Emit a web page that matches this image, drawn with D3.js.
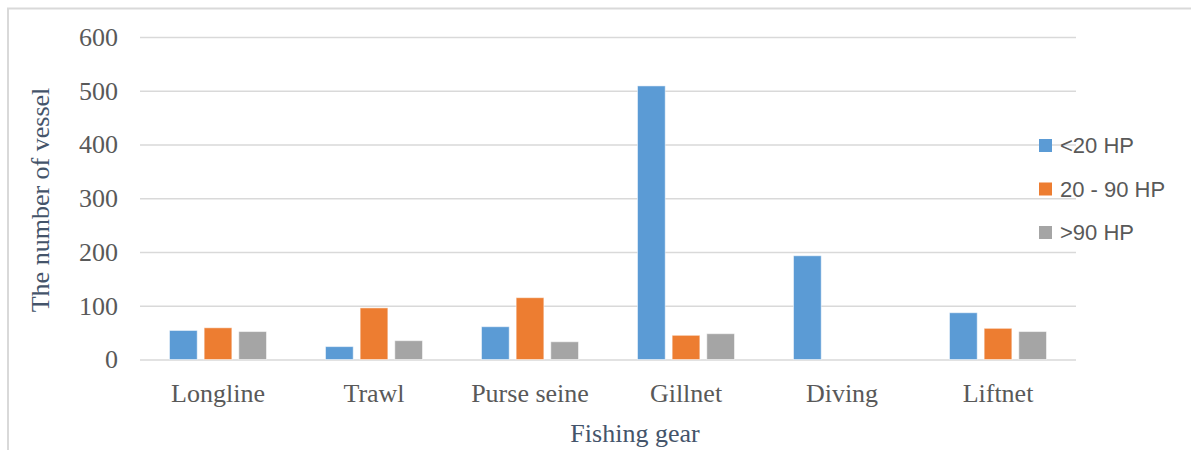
<!DOCTYPE html>
<html>
<head>
<meta charset="utf-8">
<script src="https://cdn.jsdelivr.net/npm/d3@7"></script>
<style>
  html, body { margin: 0; padding: 0; background: #fff; }
  svg { display: block; }
</style>
</head>
<body>
<svg id="chart" width="1191" height="450"></svg>
<script>
// Number of fishing vessels by gear type and engine power class
const categories = ["Longline", "Trawl", "Purse seine", "Gillnet", "Diving", "Liftnet"];
const seriesNames = ["<20 HP", "20 - 90 HP", ">90 HP"];
const under20 = [54, 24, 61, 509, 193, 87];
const from20to90 = [59, 96, 115, 45, 0, 58];
const over90 = [52, 35, 33, 48, 0, 52];
const yTicks = [0, 100, 200, 300, 400, 500, 600];
const colors = ["#5B9BD5", "#ED7D31", "#A5A5A5"];

const seriesValues = [under20, from20to90, over90];
const rows = categories.map((c, i) => ({
  category: c,
  values: seriesNames.map((s, j) => ({ series: s, idx: j, value: seriesValues[j][i] }))
}));

const svg = d3.select("#chart");
const serif = "'Liberation Serif', 'Times New Roman', serif";
const sans = "'Liberation Sans', Arial, sans-serif";

// Chart frame (partial border visible at top-left)
svg.append("path")
  .attr("d", "M8,450 L8,8.5 L1191,8.5")
  .attr("fill", "none")
  .attr("stroke", "#d9d9d9")
  .attr("stroke-width", 2);

const plot = { left: 140, right: 1076, top: 37, bottom: 359.5 };

const x0 = d3.scaleBand().domain(categories).range([plot.left, plot.right]).padding(0);
const x1 = d3.scaleBand().domain(seriesNames).range([-48.5, 48.5]).paddingInner(0.2).paddingOuter(0);
const y = d3.scaleLinear().domain([0, 600]).range([plot.bottom, plot.top]);

// Horizontal gridlines and y tick labels
const yAxis = d3.axisLeft(y).tickValues(yTicks).tickSize(-(plot.right - plot.left)).tickPadding(22);
const gy = svg.append("g").attr("transform", `translate(${plot.left},0)`).call(yAxis);
gy.select(".domain").remove();
gy.selectAll(".tick line").attr("stroke", "#d9d9d9").attr("stroke-width", 1.5);
gy.selectAll(".tick text")
  .attr("font-family", serif).attr("font-size", 26).attr("fill", "#595959");

// Category labels
const xAxis = d3.axisBottom(x0).tickSize(0).tickPadding(24);
const gx = svg.append("g").attr("transform", `translate(0,${plot.bottom})`).call(xAxis);
gx.select(".domain").remove();
gx.selectAll(".tick text")
  .attr("font-family", serif).attr("font-size", 26).attr("fill", "#595959");

// Bars
const groups = svg.append("g").selectAll("g.cat")
  .data(rows).join("g")
  .attr("class", "cat")
  .attr("transform", d => `translate(${x0(d.category) + x0.bandwidth() / 2},0)`);

groups.selectAll("rect")
  .data(d => d.values.filter(v => v.value > 0))
  .join("rect")
  .attr("x", d => x1(d.series))
  .attr("width", x1.bandwidth())
  .attr("y", d => y(d.value))
  .attr("height", d => y(0) - y(d.value))
  .attr("fill", d => colors[d.idx])
  .attr("stroke", "#ffffff")
  .attr("stroke-opacity", 0.5)
  .attr("stroke-width", 1);

// Axis titles
svg.append("text")
  .attr("transform", `translate(49,200) rotate(-90)`)
  .attr("text-anchor", "middle")
  .attr("font-family", serif).attr("font-size", 26).attr("fill", "#44546A")
  .text("The number of vessel");

svg.append("text")
  .attr("x", 635).attr("y", 442)
  .attr("text-anchor", "middle")
  .attr("font-family", serif).attr("font-size", 26).attr("fill", "#44546A")
  .text("Fishing gear");

// Legend
const legend = svg.append("g").attr("transform", "translate(1039,139)");
const items = legend.selectAll("g").data(seriesNames).join("g")
  .attr("transform", (d, i) => `translate(0,${i * 43.5})`);
items.append("rect").attr("width", 13).attr("height", 13)
  .attr("fill", (d, i) => colors[i]);
items.append("text")
  .attr("x", 21).attr("y", 14)
  .attr("font-family", sans).attr("font-size", 22).attr("fill", "#595959")
  .text(d => d);
</script>
</body>
</html>
